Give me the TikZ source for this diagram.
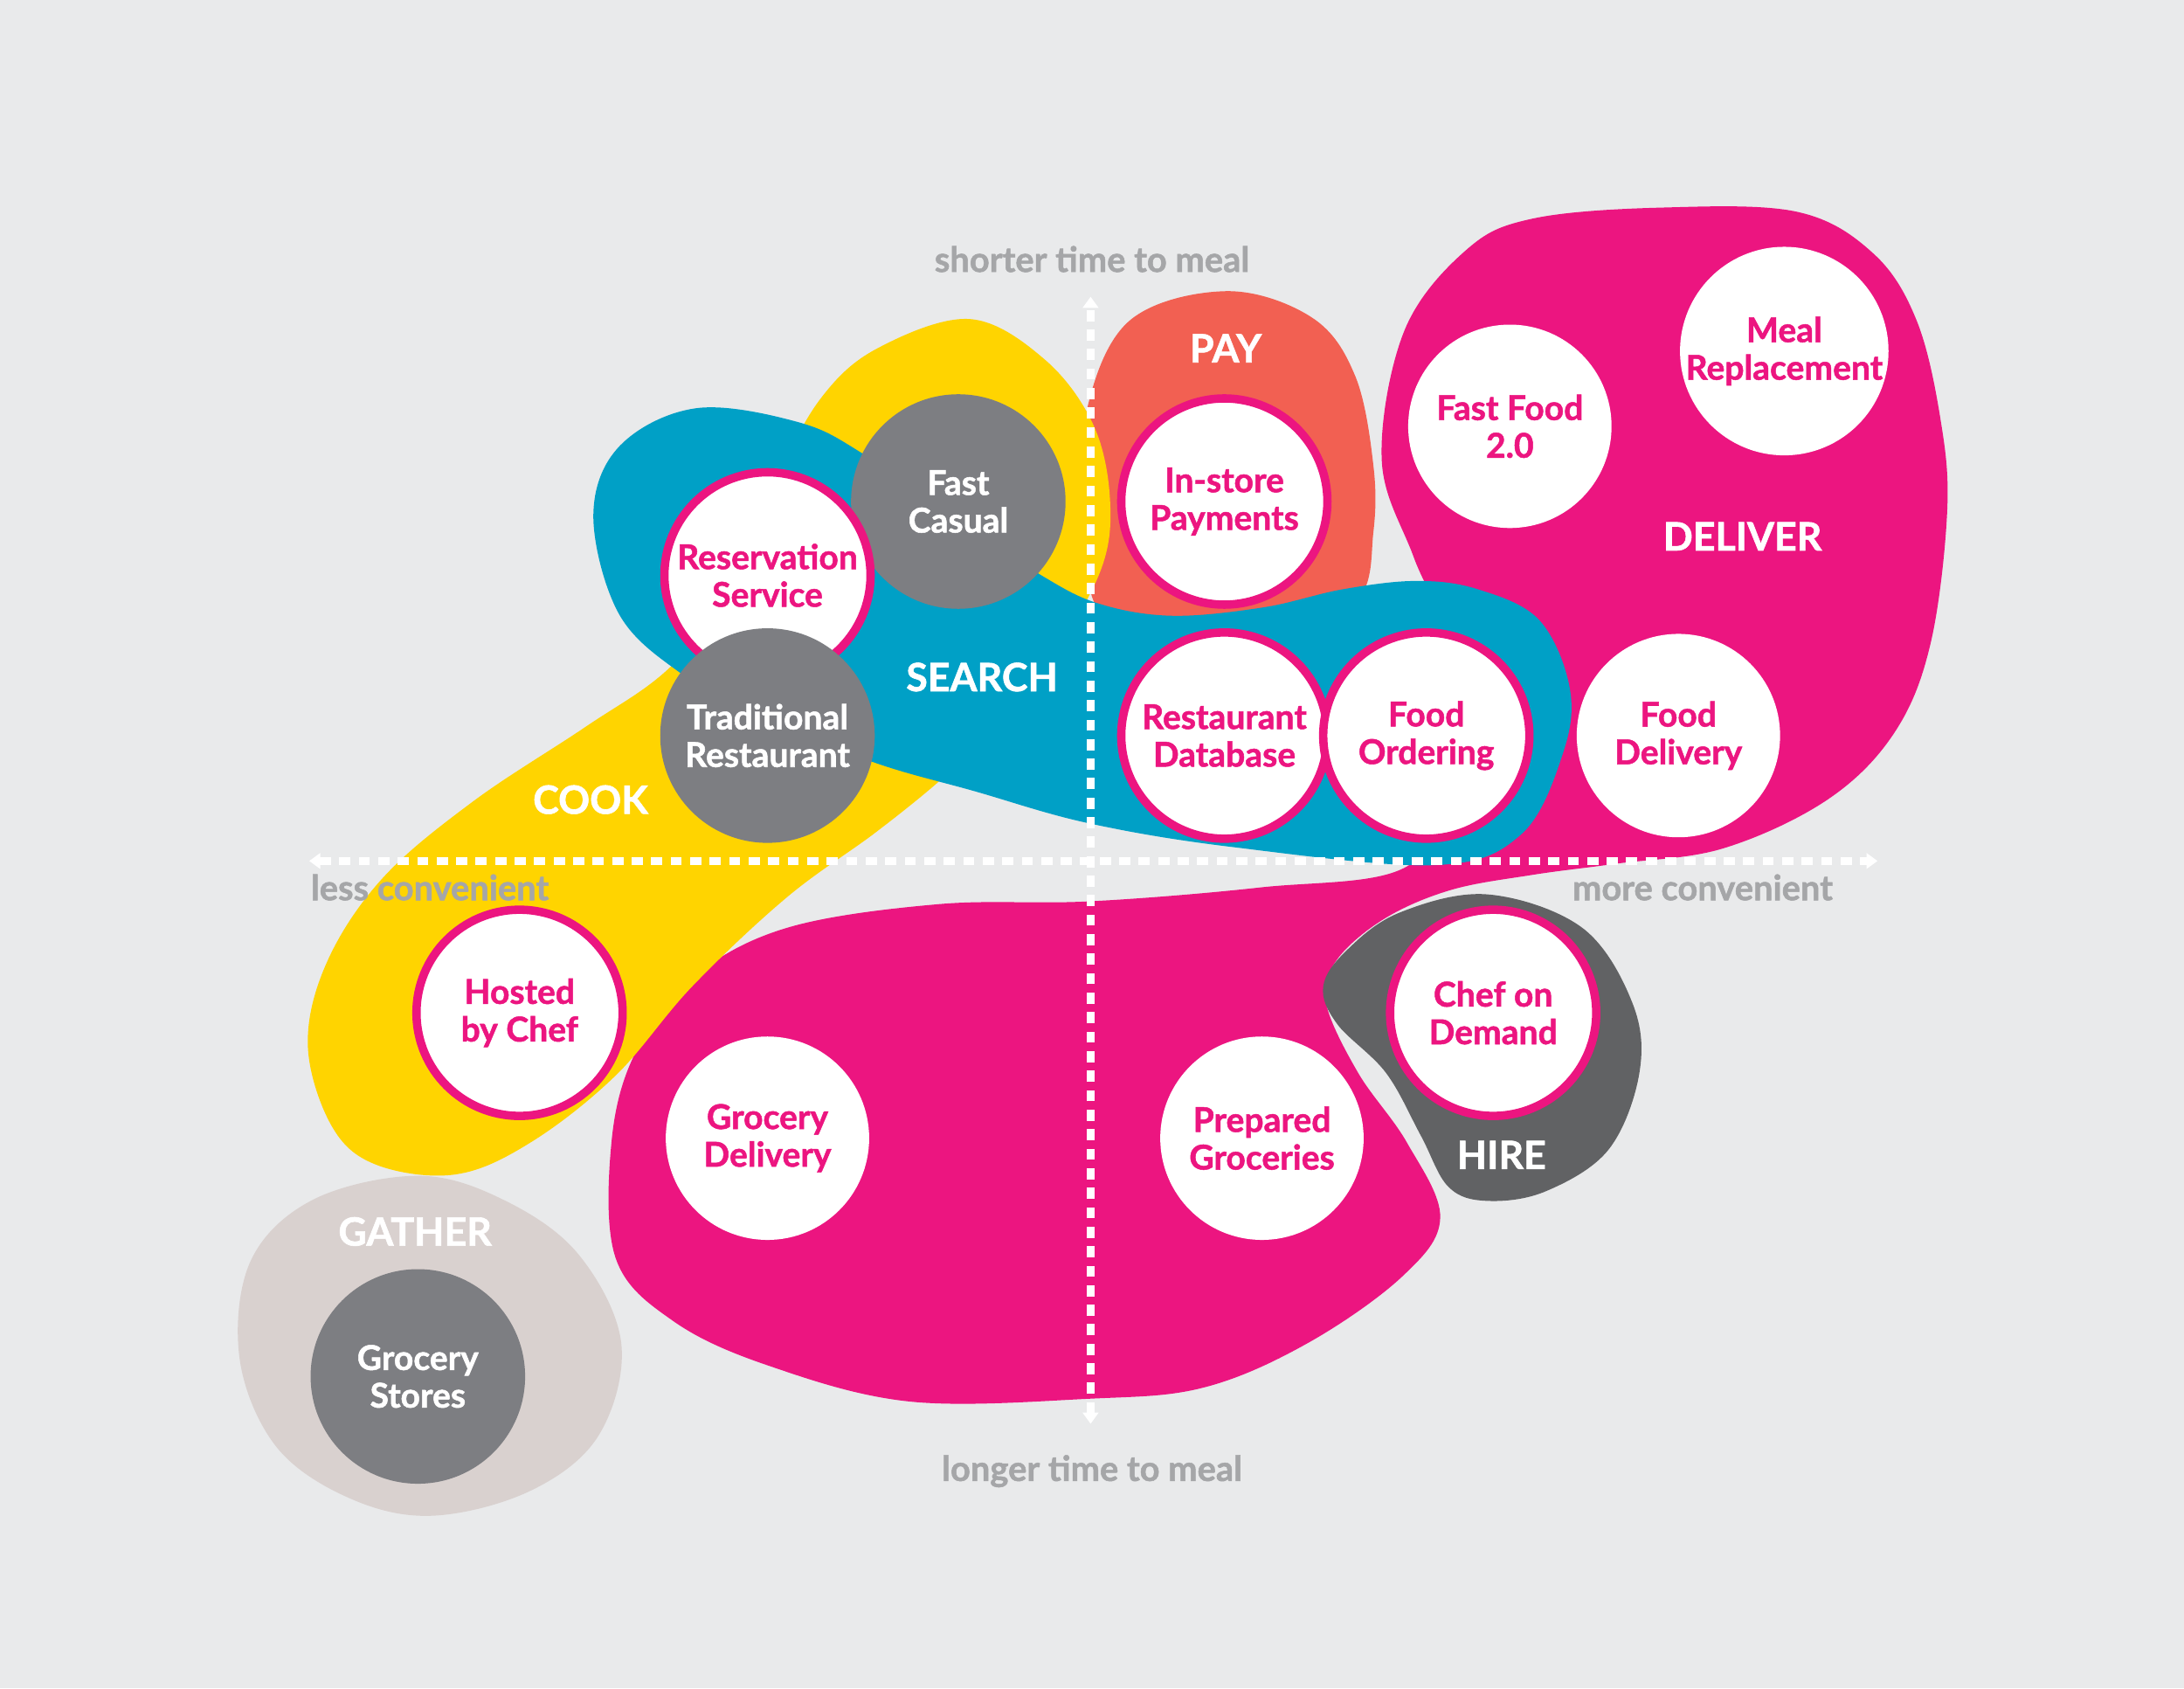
\documentclass[tikz,border=0pt]{standalone}
\usepackage{fontspec}
\setmainfont{Lato}[BoldFeatures={FakeBold=1.3}]
\usetikzlibrary{arrows.meta}
\definecolor{bg}{HTML}{E9EAEB}
\definecolor{cookyel}{HTML}{FFD400}
\definecolor{srchblue}{HTML}{00A0C6}
\definecolor{paycoral}{HTML}{F26052}
\definecolor{mag}{HTML}{EC1580}
\definecolor{hiregray}{HTML}{616264}
\definecolor{circgray}{HTML}{7D7E82}
\definecolor{taupe}{HTML}{D9D1CF}
\definecolor{axgray}{HTML}{A5A6A8}
\begin{document}
\begin{tikzpicture}[x=1bp,y=-1bp,
  bubring/.style={circle, fill=white, draw=mag, line width=6bp, minimum size=148bp, inner sep=0pt, text=mag, align=center, font=\fontsize{24.5bp}{27bp}\selectfont\bfseries},
  bubplain/.style={circle, fill=white, minimum size=146bp, inner sep=0pt, text=mag, align=center, font=\fontsize{24.5bp}{27bp}\selectfont\bfseries},
  bubgray/.style={circle, fill=circgray, minimum size=154bp, inner sep=0pt, text=white, align=center, font=\fontsize{24.5bp}{27bp}\selectfont\bfseries},
  grouplabel/.style={text=white, inner sep=0pt, font=\fontsize{28bp}{30bp}\selectfont\bfseries},
  axlabel/.style={text=axgray, inner sep=0pt, font=\fontsize{25bp}{27bp}\selectfont\bfseries},
  axisline/.style={white, line width=5.5bp, dash pattern=on 8bp off 6bp, {Triangle[width=11bp,length=8bp]}-{Triangle[width=11bp,length=8bp]}},
  blob/.style={smooth cycle, tension=0.6}
]
\useasboundingbox (0,0) rectangle (1568,1212);
\fill[bg] (0,0) rectangle (1568,1212);

% GATHER
\fill[taupe] plot[blob] coordinates {(300,844) (361,861) (415,900) (446,964) (430,1030) (381,1070) (310,1088) (250,1075) (198,1038) (172,975) (180,905) (225,861)};

% DELIVER + lower magenta
\fill[mag] plot[blob] coordinates {(1100,157) (1193,149) (1290,152) (1345,182) (1376,230) (1393,300) (1398,366) (1386,462) (1360,526) (1312,574) (1237,609) (1160,620) (1100,628) (1041,639) (993,660) (959,690) (952,720) (975,770) (1010,820) (1034,874) (1007,916) (939,964) (864,996) (782,1004) (653,1006) (551,980) (483,948) (442,903) (439,820) (456,756) (497,702) (565,666) (674,649) (782,647) (905,637) (1010,622) (1040,560) (1043,470) (1015,400) (992,330) (1008,238) (1052,180)};

% HIRE
\fill[hiregray] plot[blob] coordinates {(1068,642) (1136,666) (1172,720) (1177,770) (1155,825) (1110,855) (1068,862) (1040,852) (1020,815) (995,770) (960,735) (950,708) (967,682) (1005,655)};

% PAY
\fill[paycoral] plot[blob] coordinates {(880,209) (942,228) (973,270) (986,334) (986,382) (975,430) (920,455) (840,458) (790,440) (778,380) (779,300) (810,231)};

% COOK
\fill[cookyel] plot[blob] coordinates {(696,229) (750,258) (785,305) (797,360) (790,410) (755,470) (700,535) (674,561) (628,598) (565,644) (497,708) (442,772) (381,820) (327,843) (270,836) (238,808) (221,750) (235,690) (275,630) (340,575) (420,522) (480,480) (530,420) (560,340) (590,285) (630,250)};

% SEARCH
\fill[srchblue] plot[blob] coordinates {(500,293) (573,303) (620,326) (690,375) (746,412) (788,433) (841,442) (907,436) (964,423) (1017,417) (1061,423) (1105,445) (1127,494) (1122,541) (1092,599) (1030,621) (885,608) (782,591) (700,568) (624,546) (540,510) (487,482) (444,440) (426,370) (445,320)};

% axes
\coordinate (axT) at (783,213);
\coordinate (axB) at (783,1022);
\coordinate (axL) at (222,618);
\coordinate (axR) at (1348,618);
\draw[axisline] (axB) -- (axT);
\draw[axisline] (axL) -- (axR);

% circles
\node[bubgray] (fastcasual) at (688,360) {Fast\\Casual};
\node[bubring] (reservation) at (551,413) {Reservation\\Service};
\node[bubgray] (traditional) at (551,528) {Traditional\\Restaurant};
\node[bubring] (instore) at (879,360) {In-store\\Payments};
\node[bubring] (restdb) at (879,528) {Restaurant\\Database};
\node[bubring] (foodorder) at (1024,528) {Food\\Ordering};
\node[bubplain] (fooddeliv) at (1205,528) {Food\\Delivery};
\node[bubplain] (fastfood) at (1084,306) {Fast Food\\2.0};
\node[bubplain] (mealrep) at (1281,252) {Meal\\Replacement};
\node[bubring] (hosted) at (373,727) {Hosted\\by Chef};
\node[bubplain] (grocdeliv) at (551,817) {Grocery\\Delivery};
\node[bubplain] (prepgroc) at (906,817) {Prepared\\Groceries};
\node[bubring] (chef) at (1072,727) {Chef on\\Demand};
\node[bubgray] (grocstores) at (300,988) {Grocery\\Stores};

% group labels
\node[grouplabel] (lpay) at (880,250) {PAY};
\node[grouplabel] (ldeliver) at (1251,385) {DELIVER};
\node[grouplabel] (lsearch) at (705,486) {SEARCH};
\node[grouplabel] (lcook) at (424,574) {COOK};
\node[grouplabel] (lhire) at (1078,829) {HIRE};
\node[grouplabel] (lgather) at (298,884) {GATHER};

% axis labels
\node[axlabel] (tshort) at (784,186) {shorter time to meal};
\node[axlabel] (tlong) at (784,1056) {longer time to meal};
\node[axlabel, anchor=west] (tless) at (223,637) {less convenient};
\node[axlabel, anchor=east] (tmore) at (1316,637) {more convenient};
\end{tikzpicture}
\end{document}
